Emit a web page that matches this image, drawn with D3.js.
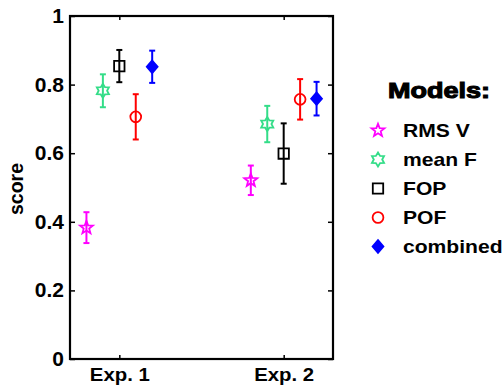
<!DOCTYPE html>
<html>
<head>
<meta charset="utf-8">
<script src="https://cdn.jsdelivr.net/npm/d3@7"></script>
<style>
  html, body { margin: 0; padding: 0; background: #fff; }
  svg { display: block; }
  text { font-family: "Liberation Sans", Arial, Helvetica, sans-serif; font-weight: bold; fill: #000; }
</style>
</head>
<body>
<svg id="chart" width="504" height="387"></svg>
<script>
// Experiments on the x axis and the models compared within each
const experiments = ["Exp. 1", "Exp. 2"];
const models = ["RMS V", "mean F", "FOP", "POF", "combined"];

// Mean score per experiment, one array per model
const rmsV     = [0.383, 0.521];
const meanF    = [0.782, 0.685];
const fop      = [0.854, 0.599];
const pof      = [0.706, 0.757];
const combined = [0.852, 0.759];

// Half-length of each error bar
const rmsVErr     = [0.045, 0.043];
const meanFErr    = [0.048, 0.053];
const fopErr      = [0.047, 0.088];
const pofErr      = [0.066, 0.059];
const combinedErr = [0.047, 0.049];

const yTicks = [0, 0.2, 0.4, 0.6, 0.8, 1];
const yTickLabels = ["0", "0.2", "0.4", "0.6", "0.8", "1"];

const seriesValues = [rmsV, meanF, fop, pof, combined];
const seriesErrors = [rmsVErr, meanFErr, fopErr, pofErr, combinedErr];

// Custom star symbols for d3.symbol (size = outer radius here)
function starType(points, innerRatio, rotation) {
  return {
    draw(ctx, r) {
      for (let i = 0; i < points * 2; i++) {
        const rad = i % 2 === 0 ? r : r * innerRatio;
        const a = rotation + Math.PI * i / points;
        const x = rad * Math.sin(a), y = -rad * Math.cos(a);
        if (i === 0) ctx.moveTo(x, y); else ctx.lineTo(x, y);
      }
      ctx.closePath();
    }
  };
}
const pentagram = starType(5, 0.42, 0);
const hexagram = starType(6, 0.6, 0);
const squareType = { draw(ctx, r) { ctx.rect(-r, -r, 2 * r, 2 * r); } };
const circleType = { draw(ctx, r) { ctx.moveTo(r, 0); ctx.arc(0, 0, r, 0, 2 * Math.PI); } };
const diamondType = {
  draw(ctx, r) {
    const w = r * 0.86;
    ctx.moveTo(0, -r); ctx.lineTo(w, 0); ctx.lineTo(0, r); ctx.lineTo(-w, 0); ctx.closePath();
  }
};

const styles = [
  { type: pentagram,   size: 6.8, color: "#ff00ff", fill: "none" },
  { type: hexagram,    size: 7.0, color: "#33dd88", fill: "none" },
  { type: squareType,  size: 5.2, color: "#000000", fill: "none" },
  { type: circleType,  size: 5.4, color: "#ff0000", fill: "none" },
  { type: diamondType, size: 6.3, color: "#0000ff", fill: "#0000ff" }
];

const svg = d3.select("#chart");
const plot = { left: 70, right: 333, top: 16, bottom: 359 };

const x = d3.scaleLinear().domain([0.7, 2.3]).range([plot.left, plot.right]);
const y = d3.scaleLinear().domain([0, 1]).range([plot.bottom, plot.top]);

// Stretch text horizontally by factor k, keeping its anchor
function stretch(sel, k) {
  sel.each(function () {
    const len = this.getComputedTextLength();
    d3.select(this).attr("textLength", len * k).attr("lengthAdjust", "spacingAndGlyphs");
  });
}

// Axes with inward ticks on all four sides
const gLeft = svg.append("g").attr("transform", `translate(${plot.left},0)`)
  .call(d3.axisLeft(y).tickValues(yTicks).tickFormat((d, i) => yTickLabels[i])
    .tickSizeInner(-5).tickSizeOuter(0).tickPadding(6));
gLeft.select(".domain").remove();
gLeft.selectAll("text").attr("font-size", 20).attr("font-family", null).call(stretch, 1.05);

const gRight = svg.append("g").attr("transform", `translate(${plot.right},0)`)
  .call(d3.axisRight(y).tickValues(yTicks).tickFormat("").tickSizeInner(-5).tickSizeOuter(0));
gRight.select(".domain").remove();

const xCats = experiments.map((d, i) => i + 1);
const gBottom = svg.append("g").attr("transform", `translate(0,${plot.bottom})`)
  .call(d3.axisBottom(x).tickValues(xCats).tickFormat((d, i) => experiments[i])
    .tickSizeInner(-4).tickSizeOuter(0).tickPadding(9));
gBottom.select(".domain").remove();
gBottom.selectAll("text").attr("font-size", 18.5).attr("font-family", null).call(stretch, 1.1);

const gTop = svg.append("g").attr("transform", `translate(0,${plot.top})`)
  .call(d3.axisTop(x).tickValues(xCats).tickFormat("").tickSizeInner(-4).tickSizeOuter(0));
gTop.select(".domain").remove();

svg.selectAll(".tick line").attr("stroke", "#000").attr("stroke-width", 1.5);

svg.append("rect")
  .attr("x", plot.left).attr("y", plot.top)
  .attr("width", plot.right - plot.left).attr("height", plot.bottom - plot.top)
  .attr("fill", "none").attr("stroke", "#000").attr("stroke-width", 2.2);

// Y axis title
svg.append("text")
  .attr("transform", `translate(23,189) rotate(-90)`)
  .attr("text-anchor", "middle")
  .attr("font-size", 19.5)
  .text("score");

// Error bars and markers
const capHalf = 3;
models.forEach((m, si) => {
  const st = styles[si];
  const g = svg.append("g").attr("class", "series");
  const pts = experiments.map((e, ei) => ({
    cx: x(ei + 1 + (si - 2) * 0.1),
    v: seriesValues[si][ei],
    e: seriesErrors[si][ei]
  }));
  pts.forEach(p => {
    const lo = y(p.v - p.e), hi = y(p.v + p.e);
    g.append("line").attr("x1", p.cx).attr("x2", p.cx).attr("y1", lo).attr("y2", hi);
    g.append("line").attr("x1", p.cx - capHalf).attr("x2", p.cx + capHalf).attr("y1", lo).attr("y2", lo);
    g.append("line").attr("x1", p.cx - capHalf).attr("x2", p.cx + capHalf).attr("y1", hi).attr("y2", hi);
  });
  g.selectAll("line").attr("stroke", st.color).attr("stroke-width", 2);
  g.selectAll("path").data(pts).join("path")
    .attr("transform", p => `translate(${p.cx},${y(p.v)})`)
    .attr("d", d3.symbol().type(st.type).size(st.size))
    .attr("fill", st.fill === "none" ? "#fff" : st.fill)
    .attr("fill-opacity", st.fill === "none" ? 0 : 1)
    .attr("stroke", st.color).attr("stroke-width", 1.8)
    .attr("stroke-linejoin", "miter");
});

// Legend
const legend = svg.append("g");
legend.append("text")
  .attr("x", 388).attr("y", 98)
  .attr("font-size", 22.5)
  .attr("stroke", "#000").attr("stroke-width", 1.1)
  .text("Models:")
  .call(stretch, 1.2);

models.forEach((m, i) => {
  const cy = 130.5 + i * 29;
  const st = styles[i];
  legend.append("path")
    .attr("transform", `translate(378,${cy})`)
    .attr("d", d3.symbol().type(st.type).size(st.size))
    .attr("fill", st.fill === "none" ? "none" : st.fill)
    .attr("stroke", st.color).attr("stroke-width", 1.8);
  legend.append("text")
    .attr("x", 403).attr("y", cy + 6.7)
    .attr("font-size", 18.5)
    .text(m)
    .call(stretch, 1.14);
});
</script>
</body>
</html>
